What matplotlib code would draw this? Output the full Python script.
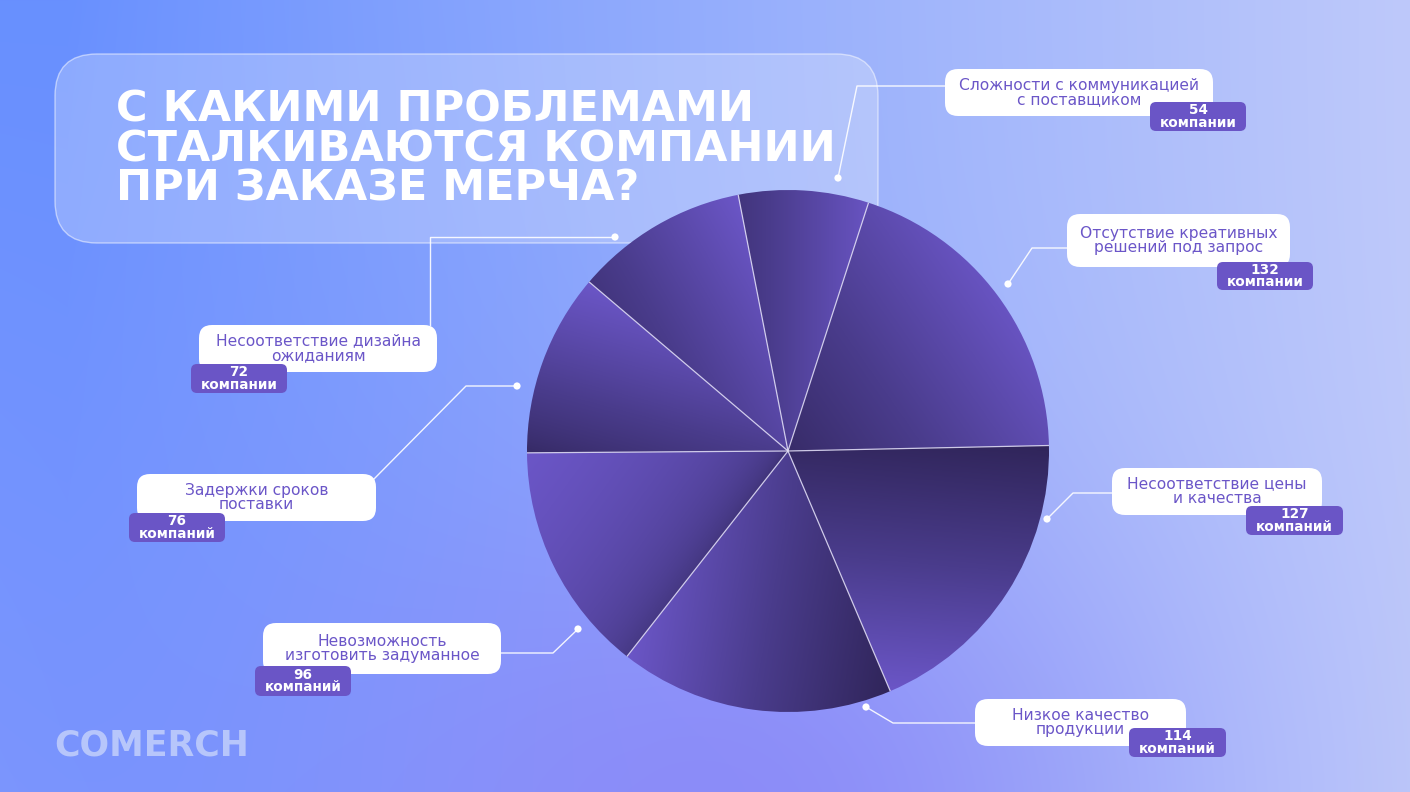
import numpy as np
import matplotlib
matplotlib.use("Agg")
import matplotlib.pyplot as plt
from matplotlib.patches import FancyBboxPatch, Circle
from matplotlib.colors import LinearSegmentedColormap, to_rgb

# ---------------- data ----------------
categories = [
    "Сложности с коммуникацией\nс поставщиком",
    "Отсутствие креативных\nрешений под запрос",
    "Несоответствие цены\nи качества",
    "Низкое качество\nпродукции",
    "Невозможность\nизготовить задуманное",
    "Задержки сроков\nпоставки",
    "Несоответствие дизайна\nожиданиям",
]
values = [54, 132, 127, 114, 96, 76, 72]
units = ["компании", "компании", "компаний", "компаний", "компаний", "компаний", "компании"]
title = "С КАКИМИ ПРОБЛЕМАМИ\nСТАЛКИВАЮТСЯ КОМПАНИИ\nПРИ ЗАКАЗЕ МЕРЧА?"
brand = "COMERCH"

# ---------------- layout (pixels, y from top) ----------------
W, H = 1410, 792
def Y(y):
    return H - y

CX, CY, R = 788, 451, 261
PURPLE = "#6a55c6"
TEXT_PURPLE = "#6b56c8"

label_boxes = [
    (945, 69, 1213, 116),
    (1067, 214, 1290, 267),
    (1112, 468, 1322, 515),
    (975, 699, 1186, 746),
    (263, 623, 501, 674),
    (137, 474, 376, 521),
    (199, 325, 437, 372),
]
badge_boxes = [
    (1150, 102, 1246, 131),
    (1217, 262, 1313, 290),
    (1246, 506, 1343, 535),
    (1129, 728, 1226, 757),
    (255, 666, 351, 696),
    (129, 513, 225, 542),
    (191, 364, 287, 393),
]
leaders = [
    [(838, 178), (857, 86), (945, 86)],
    [(1008, 284), (1032, 248), (1067, 248)],
    [(1047, 519), (1073, 493), (1112, 493)],
    [(866, 707), (893, 723), (975, 723)],
    [(578, 629), (553, 653), (501, 653)],
    [(517, 386), (466, 386), (373, 480)],
    [(615, 237), (430, 237), (430, 325)],
]
# gradient style per wedge: direction (deg, towards lighter), lo, hi, gamma
grad_style = [
    (0, 0.35, 0.95, 1.0),
    (35, 0.15, 0.95, 1.0),
    (-95, 0.0, 1.0, 1.0),
    (170, 0.0, 1.0, 1.0),
    (144, 0.15, 1.0, 0.35),
    (75, 0.1, 1.0, 0.8),
    (30, 0.35, 1.0, 1.0),
]

fig = plt.figure(figsize=(14.1, 7.92), dpi=100)
ax = fig.add_axes([0, 0, 1, 1])

# ---------------- background ----------------
yy, xx = np.mgrid[0:H, 0:W]
u = xx / W
v = yy / H
c_l = np.array(to_rgb("#6890ff"))
c_r = np.array(to_rgb("#bec9fa"))
t = np.clip(u * 1.05 - 0.05, 0, 1) ** 0.9
bg = c_l[None, None, :] * (1 - t[..., None]) + c_r[None, None, :] * t[..., None]
c_lb = np.array(to_rgb("#7b96fe"))
wlb = np.clip((1 - u * 2.2), 0, 1) * v
bg = bg * (1 - wlb[..., None]) + c_lb * wlb[..., None]
c_p = np.array(to_rgb("#8a86f8"))
d2 = ((xx - 720) / 420.0) ** 2 + ((yy - 820) / 330.0) ** 2
wp = 0.85 * np.exp(-d2)
bg = bg * (1 - wp[..., None]) + c_p * wp[..., None]
ax.imshow(bg, extent=(0, W, 0, H), origin="upper", zorder=0, interpolation="bilinear")

# ---------------- title box ----------------
tb = FancyBboxPatch((55, Y(243)), 823, 189,
                    boxstyle="round,pad=0,rounding_size=42",
                    facecolor=(1, 1, 1, 0.24), edgecolor=(1, 1, 1, 0.5),
                    linewidth=1.0, zorder=1)
ax.add_patch(tb)
ax.text(116, Y(149), title, color="white", fontsize=31, fontweight="bold",
        family="DejaVu Sans", ha="left", va="center", linespacing=0.93, zorder=2)

# ---------------- pie ----------------
wedges, _ = ax.pie(values, startangle=101, counterclock=False, center=(CX, Y(CY)),
                   radius=R, frame=True,
                   wedgeprops=dict(linewidth=0, facecolor="none", edgecolor="none"))
for w_ in wedges:
    w_.set_zorder(3)

cmap = LinearSegmentedColormap.from_list("pp", ["#30255a", "#4a3c8c", "#6b56c7"])
n = 600
gx = np.linspace(CX - R, CX + R, n)
gy = np.linspace(Y(CY) - R, Y(CY) + R, n)
GX, GY = np.meshgrid(gx, gy)
for w_, (ang, lo, hi, gam) in zip(wedges, grad_style):
    a = np.deg2rad(ang)
    p = (GX - CX) * np.cos(a) + (GY - Y(CY)) * np.sin(a)
    th = np.deg2rad(np.linspace(w_.theta1, w_.theta2, 60))
    pts = np.concatenate([[0.0], R * (np.cos(th) * np.cos(a) + np.sin(th) * np.sin(a))])
    pmin, pmax = pts.min(), pts.max()
    tt = np.clip((p - pmin) / (pmax - pmin), 0, 1) ** gam
    tt = lo + (hi - lo) * tt
    im = ax.imshow(tt, extent=(CX - R, CX + R, Y(CY) - R, Y(CY) + R), origin="lower",
                   cmap=cmap, vmin=0, vmax=1, zorder=3, interpolation="bilinear")
    im.set_clip_path(w_)

for w_ in wedges:
    th = np.deg2rad(w_.theta1)
    ax.plot([CX, CX + R * np.cos(th)], [Y(CY), Y(CY) + R * np.sin(th)],
            color="#e4e0f6", lw=0.9, alpha=0.85, zorder=4, solid_capstyle="butt")

# ---------------- leaders ----------------
for pts in leaders:
    xs = [p[0] for p in pts]
    ys = [Y(p[1]) for p in pts]
    ax.plot(xs, ys, color="white", lw=1.0, alpha=0.9, zorder=5)
    ax.add_patch(Circle((xs[0], ys[0]), 3.6, facecolor="white", edgecolor="none", zorder=6))

# ---------------- labels ----------------
for cat, val, unit, lb, bb in zip(categories, values, units, label_boxes, badge_boxes):
    x0, y0, x1, y1 = lb
    ax.add_patch(FancyBboxPatch((x0, Y(y1)), x1 - x0, y1 - y0,
                                boxstyle="round,pad=0,rounding_size=13",
                                facecolor="white", edgecolor="none", zorder=7))
    ax.text((x0 + x1) / 2, Y((y0 + y1) / 2), cat, color=TEXT_PURPLE, fontsize=11.2,
            family="DejaVu Sans", ha="center", va="center", linespacing=0.98, zorder=8)
    bx0, by0, bx1, by1 = bb
    ax.add_patch(FancyBboxPatch((bx0, Y(by1)), bx1 - bx0, by1 - by0,
                                boxstyle="round,pad=0,rounding_size=6",
                                facecolor=PURPLE, edgecolor="none", zorder=9))
    ax.text((bx0 + bx1) / 2, Y((by0 + by1) / 2), f"{val}\n{unit}", color="white",
            fontsize=9.8, fontweight="bold", family="DejaVu Sans", ha="center",
            va="center", linespacing=0.9, zorder=10)

# ---------------- brand ----------------
ax.text(54, Y(746), brand, color="#b7c6fb", fontsize=25, fontweight="bold",
        family="DejaVu Sans", ha="left", va="center", zorder=2)

ax.set_xlim(0, W)
ax.set_ylim(0, H)
ax.set_aspect("auto")
ax.axis("off")
fig.savefig("out.png", dpi=100)
